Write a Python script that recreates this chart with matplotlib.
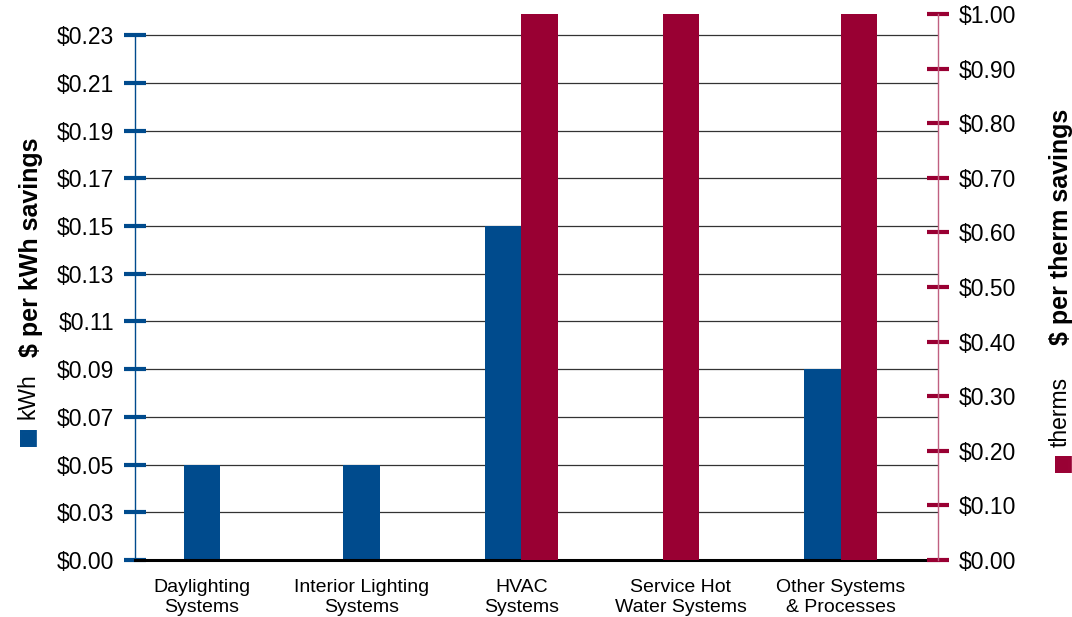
import matplotlib.pyplot as plt
import numpy as np

# Data
categories = ["Daylighting\nSystems", "Interior Lighting\nSystems", "HVAC\nSystems",
              "Service Hot\nWater Systems", "Other Systems\n& Processes"]
kwh_savings = [0.05, 0.05, 0.15, 0.0, 0.09]      # $ per kWh
therm_savings = [0.0, 0.0, 1.10, 1.10, 1.10]     # $ per therm (off scale above $1.00)
kwh_ticks = [0.01, 0.03, 0.05, 0.07, 0.09, 0.11, 0.13, 0.15, 0.17, 0.19, 0.21, 0.23]
kwh_tick_labels = ["$0.00", "$0.03", "$0.05", "$0.07", "$0.09", "$0.11", "$0.13",
                   "$0.15", "$0.17", "$0.19", "$0.21", "$0.23"]
therm_ticks = [0.0, 0.1, 0.2, 0.3, 0.4, 0.5, 0.6, 0.7, 0.8, 0.9, 1.0]

blue = "#004b8d"
red = "#990033"
plt.rcParams['font.family'] = ["Liberation Sans", "DejaVu Sans"]

fig = plt.figure(figsize=(10.72, 6.17), dpi=100)
ax = fig.add_axes([135 / 1072, 57 / 617, 803 / 1072, 546 / 617])
ax2 = ax.twinx()

x = np.arange(len(categories))
w = 0.23
for i in range(len(categories)):
    has_k = kwh_savings[i] > 0
    has_t = therm_savings[i] > 0
    if has_k:
        ax.bar(x[i] - (w / 2 if has_t else 0), kwh_savings[i], width=w, color=blue, zorder=3)
    if has_t:
        ax2.bar(x[i] + (w / 2 if has_k else 0), therm_savings[i], width=w, color=red, zorder=3)

ax.set_xlim(-0.42, 4.61)
ax.set_ylim(0.01, 0.2389)
ax2.set_ylim(0, 1.0)

# left axis
ax.set_yticks(kwh_ticks)
ax.set_yticklabels(kwh_tick_labels, fontsize=16.5)
ax.tick_params(axis='y', direction='inout', length=16, width=3, color=blue, pad=7)
ax.spines['left'].set_color(blue)
ax.spines['left'].set_linewidth(1)
ax.spines['left'].set_bounds(0.01, 0.23)
ax.yaxis.grid(True, color="#333333", linewidth=0.9)
ax.set_axisbelow(True)

# right axis
ax2.set_yticks(therm_ticks)
ax2.set_yticklabels(["$%.2f" % t for t in therm_ticks], fontsize=16.5)
ax2.tick_params(axis='y', direction='inout', length=16, width=3, color=red, pad=7)
ax2.spines['right'].set_color("#c06080")
ax2.spines['right'].set_linewidth(1)

for a in (ax, ax2):
    a.spines['top'].set_visible(False)
ax2.spines['left'].set_visible(False)
ax2.spines['bottom'].set_visible(False)
ax.spines['right'].set_visible(False)
ax.spines['bottom'].set_color("black")
ax.spines['bottom'].set_linewidth(2.2)
ax.spines['bottom'].set_zorder(5)

ax.set_xticks(x)
ax.set_xticklabels(categories, fontsize=14, linespacing=1.2)
ax.tick_params(axis='x', length=0, pad=14)

# axis titles and legend keys
fig.text(31 / 1072, 1 - 247 / 617, "$ per kWh savings", rotation=90, fontsize=18,
         fontweight='bold', ha='center', va='center')
fig.text(26 / 1072, 1 - 435 / 617, "\u25a0", rotation=90, fontsize=16, color=blue,
         ha='center', va='center', family=["DejaVu Sans"])
fig.text(28 / 1072, 1 - 396 / 617, "kWh", rotation=90, fontsize=16.5,
         ha='center', va='center')
fig.text(1061 / 1072, 1 - 227 / 617, "$ per therm savings", rotation=90, fontsize=18,
         fontweight='bold', ha='center', va='center')
fig.text(1061 / 1072, 1 - 462 / 617, "\u25a0", rotation=90, fontsize=16, color=red,
         ha='center', va='center', family=["DejaVu Sans"])
fig.text(1060 / 1072, 1 - 412 / 617, "therms", rotation=90, fontsize=16.5,
         ha='center', va='center')

fig.savefig("out.png", dpi=100)
